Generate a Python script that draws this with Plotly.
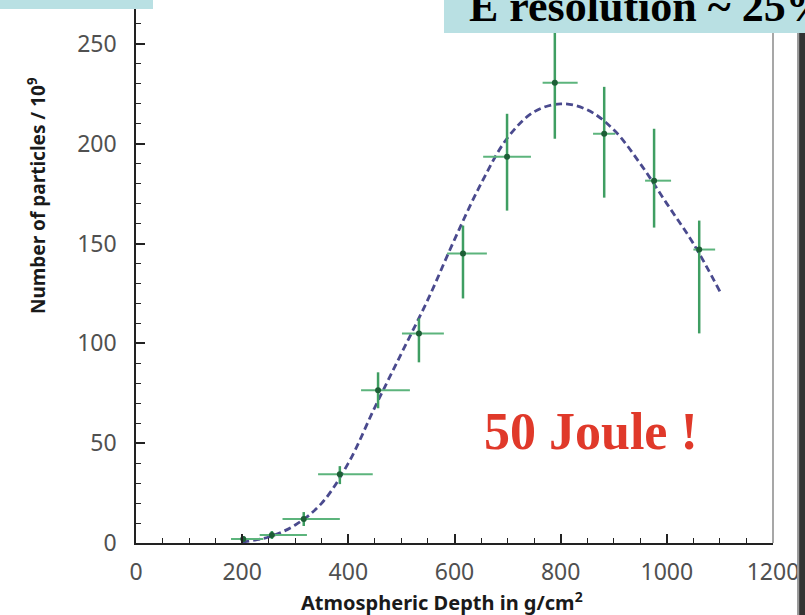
import plotly.graph_objects as go

# ---- data ----
depth = [202, 256, 316, 384, 456, 533, 616, 699, 789, 882, 976, 1061]
particles = [2, 4, 12, 34.5, 76.5, 105, 145, 193.5, 230.5, 205, 181.5, 147]
err_y_plus = [1.5, 2, 3.5, 4, 9, 7.5, 14, 21.5, 30, 23.5, 26, 14.5]
err_y_minus = [1.5, 2, 3.5, 5, 9, 14.5, 22.5, 27, 28, 32, 23.5, 42]
err_x_plus = [38, 66, 68, 62, 60, 47, 45, 45, 43, 21, 32, 30]
err_x_minus = [23, 23, 40, 41, 32, 32, 30, 45, 23, 21, 17, 11]

fit_depth = [200, 250, 300, 350, 400, 450, 500, 550, 600, 650, 700, 750,
             800, 850, 900, 950, 1000, 1050, 1100]
fit_particles = [0.5, 3, 9, 20, 40, 68, 95, 122, 152, 180, 203, 216,
                 220, 217, 207, 190, 170, 150, 126]

x_ticks = [0, 200, 400, 600, 800, 1000, 1200]
y_ticks = [0, 50, 100, 150, 200, 250]

fig = go.Figure()

fig.add_trace(go.Scatter(
    x=fit_depth, y=fit_particles, mode="lines",
    line=dict(color="#4a4a8e", width=2.8, dash="7px,4px", shape="spline"),
    hoverinfo="skip", showlegend=False))

fig.add_trace(go.Scatter(
    x=depth, y=particles, mode="markers",
    marker=dict(color="#1d5e36", size=6),
    error_y=dict(type="data", symmetric=False, array=err_y_plus,
                 arrayminus=err_y_minus, color="#3f9e62", thickness=2.5, width=0),
    error_x=dict(type="data", symmetric=False, array=err_x_plus,
                 arrayminus=err_x_minus, color="#5cb47c", thickness=2, width=0),
    showlegend=False))

axis_common = dict(
    showgrid=False, zeroline=False, showline=True, linecolor="#222",
    linewidth=1.5, ticks="inside", ticklen=9, tickwidth=1.5, tickcolor="#222",
    tickfont=dict(family="Noto Sans", size=23, color="#505050"),
)

fig.update_layout(
    width=805, height=615,
    margin=dict(l=136, r=32, t=0, b=72),
    paper_bgcolor="white", plot_bgcolor="white",
    xaxis=dict(range=[0, 1200], tickvals=x_ticks, ticklabelstandoff=8,
               minor=dict(dtick=50, ticks="inside", ticklen=5, tickcolor="#222", tickwidth=1.2),
               **axis_common),
    yaxis=dict(range=[0, 272], tickvals=y_ticks, ticklabelstandoff=13,
               minor=dict(dtick=10, ticks="inside", ticklen=5, tickcolor="#222", tickwidth=1.2),
               **axis_common),
)

shapes = [
    # right frame line
    dict(type="line", xref="paper", yref="paper", x0=1, x1=1, y0=0, y1=1,
         line=dict(color="#8a8a8a", width=1.5)),
    # dark slide edge on the right
    dict(type="rect", xref="paper", yref="paper", x0=1.0377, x1=1.041, y0=-0.14, y1=0.94,
         line=dict(width=0), fillcolor="#9a9a9a"),
    dict(type="rect", xref="paper", yref="paper", x0=1.041, x1=1.07, y0=-0.14, y1=0.94,
         line=dict(width=0), fillcolor="#333333"),
    # top-right title box
    dict(type="rect", xref="paper", yref="paper", x0=0.4835, x1=1.1, y0=0.939, y1=1.01,
         line=dict(width=0), fillcolor="#b9e0e3"),
    # top-left box
    dict(type="rect", xref="paper", yref="paper", x0=-0.3, x1=0.0267, y0=0.9834, y1=1.01,
         line=dict(width=0), fillcolor="#b9e0e3"),
]
fig.update_layout(shapes=shapes)

fig.add_annotation(text="<b>E resolution ~ 25%</b>", xref="paper", yref="paper",
                   x=0.5196, y=1, xanchor="left", yanchor="middle", yshift=-6,
                   showarrow=False,
                   font=dict(family="Liberation Serif", size=44, color="#000"))
fig.add_annotation(text="<b>50 Joule !</b>", xref="paper", yref="paper",
                   x=(591 - 136) / 637, y=(543 - 431) / 543, xanchor="center",
                   yanchor="middle", showarrow=False,
                   font=dict(family="Liberation Serif", size=52, color="#e0392a"))
fig.add_annotation(text="<b>Number of particles / 10<sup>9</sup></b>", xref="paper",
                   yref="paper", x=(37 - 136) / 637, y=(543 - 196) / 543,
                   xanchor="center", yanchor="middle", textangle=-90, showarrow=False,
                   font=dict(family="Noto Sans", size=19, color="#1a1a1a"))
fig.add_annotation(text="<b>Atmospheric Depth in g/cm<sup>2</sup></b>", xref="paper",
                   yref="paper", x=(442 - 136) / 637, y=(543 - 601) / 543,
                   xanchor="center", yanchor="middle", showarrow=False,
                   font=dict(family="Noto Sans", size=20, color="#1a1a1a"))

fig.write_html("out.html")
